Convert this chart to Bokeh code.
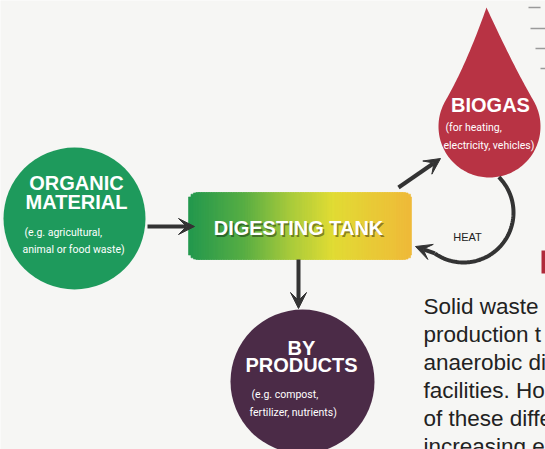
import numpy as np
from bokeh.plotting import figure
from bokeh.models import Range1d, Arrow, VeeHead
from bokeh.core.properties import value
from bokeh.embed import file_html
from bokeh.resources import INLINE

# ---- content -------------------------------------------------------------
organic_title = ["ORGANIC", "MATERIAL"]
organic_note = ["(e.g. agricultural,", "animal or food waste)"]
tank_title = ["DIGESTING TANK"]
biogas_title = ["BIOGAS"]
biogas_note = ["(for heating,", "electricity, vehicles)"]
byproducts_title = ["BY", "PRODUCTS"]
byproducts_note = ["(e.g. compost,", "fertilizer, nutrients)"]
heat_label = ["HEAT"]
body_lines = ["Solid waste", "production t", "anaerobic di",
              "facilities. Ho", "of these diffe", "increasing e"]

# ---- styles --------------------------------------------------------------
BG = "#f6f6f4"
GREEN = "#1e9a5c"
PURPLE = "#4b2b47"
RED = "#b83344"
DARK = "#333333"
HEAD_FONT = value("Liberation Sans")
NOTE_FONT = value("Roboto")
HEAD_SIZE = "20px"
NOTE_SIZE = "10.5px"

p = figure(width=545, height=449, x_range=Range1d(0, 545), y_range=Range1d(449, 0),
           output_backend="svg", toolbar_location=None, min_border=0,
           x_axis_type=None, y_axis_type=None)
p.grid.visible = False
p.outline_line_color = None
p.background_fill_color = BG
p.border_fill_color = BG

# faint marks top right
p.segment(x0=[528, 530, 535, 540], y0=[7, 28, 48, 68], x1=[540, 545, 545, 545], y1=[7, 28, 48, 68],
          line_color="#9a9a9a", line_width=1.5)
# small red mark at right edge
p.quad(left=[541], right=[546], top=[250], bottom=[273], fill_color="#b02a3a", line_color=None)

# ---- organic material circle ---------------------------------------------
p.circle(x=[74], y=[218], radius=71, fill_color=GREEN, line_color=None)
p.text(x=[76, 76], y=[182, 201], text=organic_title, text_font=HEAD_FONT, text_font_style="bold",
       text_font_size=HEAD_SIZE, text_color="white", text_align="center", text_baseline="middle")
p.text(x=[24, 22], y=[232, 249], text=organic_note, text_font=NOTE_FONT,
       text_font_size=NOTE_SIZE, text_color="white", text_align="left", text_baseline="middle")

# ---- digesting tank (rounded gradient box) -------------------------------
tx0, tx1, ty0, ty1, rad = 188, 411, 192, 259, 9
n = 90
edges = np.linspace(tx0, tx1, n + 1)
lefts, rights = edges[:-1], edges[1:]
mids = (lefts + rights) / 2
d = np.minimum(mids - tx0, tx1 - mids)
inset = np.where(d < rad, rad - np.sqrt(np.clip(rad**2 - (rad - d) ** 2, 0, None)), 0)
stops_t = [0.0, 0.25, 0.45, 0.65, 1.0]
stops_c = [(0x22, 0x98, 0x4e), (0x58, 0xae, 0x44), (0xa6, 0xca, 0x3c), (0xe2, 0xdc, 0x34), (0xf0, 0xba, 0x3a)]
t = (mids - tx0) / (tx1 - tx0)
cols = []
for tt in t:
    rgb = [int(np.interp(tt, stops_t, [c[k] for c in stops_c])) for k in range(3)]
    cols.append("#%02x%02x%02x" % tuple(rgb))
p.quad(left=lefts, right=np.minimum(rights + 1.5, tx1), top=ty0 + inset, bottom=ty1 - inset,
       fill_color=cols, line_color=cols, line_width=0.6)
p.text(x=[299.5], y=[229.5], text=tank_title, text_font=HEAD_FONT, text_font_style="bold",
       text_font_size=HEAD_SIZE, text_color="#000000", text_alpha=0.4, text_align="center",
       text_baseline="middle")
p.text(x=[298], y=[227], text=tank_title, text_font=HEAD_FONT, text_font_style="bold",
       text_font_size=HEAD_SIZE, text_color="white", text_align="center", text_baseline="middle")

# ---- biogas drop ---------------------------------------------------------
cx, cy, r = 489, 126, 51
tip = np.array([486.0, 7.0])
a = np.radians(np.linspace(-30, 210, 120))
arc_x, arc_y = cx + r * np.cos(a), cy + r * np.sin(a)
def qcurve(p0, c, p1, m=40):
    s = np.linspace(0, 1, m)[:, None]
    return (1 - s) ** 2 * p0 + 2 * (1 - s) * s * c + s ** 2 * p1
pl = np.array([arc_x[-1], arc_y[-1]])
tl = np.array([-np.sin(a[-1]), np.cos(a[-1])])
left_side = qcurve(pl, pl + 42 * tl, tip)
pr = np.array([arc_x[0], arc_y[0]])
tr = np.array([np.sin(a[0]), -np.cos(a[0])])
right_side = qcurve(tip, pr + 42 * tr, pr)
dx = np.concatenate([arc_x, left_side[:, 0], right_side[:, 0]])
dy = np.concatenate([arc_y, left_side[:, 1], right_side[:, 1]])
p.patch(dx, dy, fill_color=RED, line_color=None)
p.text(x=[490], y=[104], text=biogas_title, text_font=HEAD_FONT, text_font_style="bold",
       text_font_size=HEAD_SIZE, text_color="white", text_align="center", text_baseline="middle")
p.text(x=[445, 443], y=[127, 145], text=biogas_note, text_font=NOTE_FONT,
       text_font_size=NOTE_SIZE, text_color="white", text_align="left", text_baseline="middle")

# ---- by-products circle --------------------------------------------------
p.circle(x=[302], y=[381], radius=72, fill_color=PURPLE, line_color=None)
p.text(x=[301, 301], y=[347, 364], text=byproducts_title, text_font=HEAD_FONT, text_font_style="bold",
       text_font_size=HEAD_SIZE, text_color="white", text_align="center", text_baseline="middle")
p.text(x=[251, 249], y=[394, 412], text=byproducts_note, text_font=NOTE_FONT,
       text_font_size=NOTE_SIZE, text_color="white", text_align="left", text_baseline="middle")

# ---- arrows --------------------------------------------------------------
def add_arrow(x0, y0, x1, y1):
    p.add_layout(Arrow(end=VeeHead(size=16, fill_color=DARK, line_color=DARK, line_width=1),
                       x_start=x0, y_start=y0, x_end=x1, y_end=y1,
                       line_color=DARK, line_width=4))

add_arrow(147, 226, 194, 226)
add_arrow(398, 187, 440, 158)
add_arrow(298, 259, 298, 308)

# heat loop
ha = np.radians(np.linspace(-45, 125, 100))
hx, hy = 463 + 50 * np.cos(ha), 212 + 50 * np.sin(ha)
p.line(hx, hy, line_color=DARK, line_width=4)
add_arrow(hx[-1], hy[-1], 415, 246)
p.text(x=[467], y=[236], text=heat_label, text_font=HEAD_FONT, text_font_size="11px",
       text_color="#222222", text_align="center", text_baseline="middle")

# ---- body text -----------------------------------------------------------
p.text(x=[423] * len(body_lines), y=[306 + 28 * i for i in range(len(body_lines))], text=body_lines,
       text_font=HEAD_FONT, text_font_size="22.5px", text_color="#222222",
       text_align="left", text_baseline="middle")

open("out.html", "w").write(file_html(p, INLINE))
